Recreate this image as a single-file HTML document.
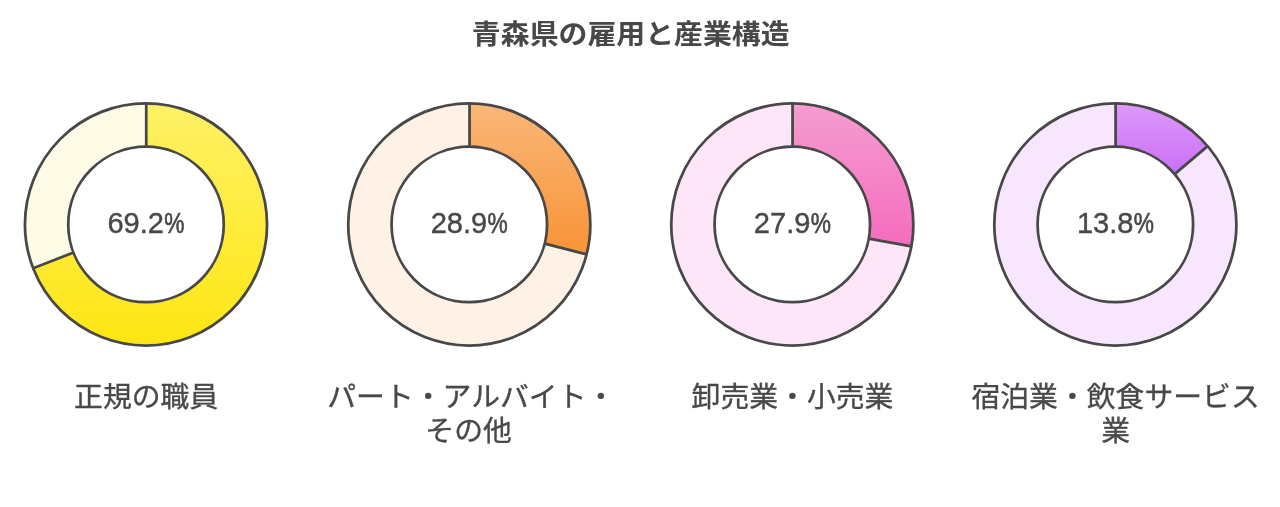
<!DOCTYPE html>
<html lang="ja"><head><meta charset="utf-8"><title>青森県の雇用と産業構造</title>
<style>
html,body{margin:0;padding:0;background:#fff;}
body{width:1280px;height:507px;overflow:hidden;}
svg{display:block;}
text{font-family:"Liberation Sans","Noto Sans CJK JP",sans-serif;fill:#484848;text-anchor:middle;}
.ttl{font-size:28.7px;font-weight:700;}
.lbl{font-size:28.7px;font-weight:400;stroke:#484848;stroke-width:0.35px;}
.pct{font-size:30.4px;font-weight:400;text-anchor:start;stroke:#484848;stroke-width:0.4px;}
</style></head><body>
<svg width="1280" height="507" viewBox="0 0 1280 507">
<defs><linearGradient id="g0" x1="0" y1="0" x2="0" y2="1"><stop offset="0" stop-color="#FEF166"/><stop offset="1" stop-color="#FEE612"/></linearGradient><linearGradient id="g1" x1="0" y1="0" x2="0" y2="1"><stop offset="0" stop-color="#FAB778"/><stop offset="1" stop-color="#F89337"/></linearGradient><linearGradient id="g2" x1="0" y1="0" x2="0" y2="1"><stop offset="0" stop-color="#F59DD0"/><stop offset="1" stop-color="#F56CBE"/></linearGradient><linearGradient id="g3" x1="0" y1="0" x2="0" y2="1"><stop offset="0" stop-color="#DD9AF9"/><stop offset="1" stop-color="#CA6EF7"/></linearGradient></defs>
<g class="donut">
<path fill-rule="evenodd" fill="#FEFBE6" d="M24.950000000000003,224.45a121.05,121.05 0 1 0 242.1,0a121.05,121.05 0 1 0 -242.1,0ZM68.25,224.45a77.75,77.75 0 1 0 155.5,0a77.75,77.75 0 1 0 -155.5,0Z"/>
<path d="M146.00,103.40A121.05,121.05 0 1 1 33.13,268.19L73.50,252.54A77.75,77.75 0 1 0 146.00,146.70Z" fill="url(#g0)"/>
<g fill="none" stroke="#484848" stroke-width="2.75"><circle cx="146.0" cy="224.45" r="121.05"/><circle cx="146.0" cy="224.45" r="77.75"/><path d="M146.25,146.70L146.25,103.40M73.50,252.54L33.13,268.19"/></g>
<text transform="translate(0,233.2) scale(1,1.0)" class="pct"><tspan x="107.40" textLength="56.6" lengthAdjust="spacingAndGlyphs">69.2</tspan><tspan x="164.30" textLength="20.2" lengthAdjust="spacingAndGlyphs" style="stroke-width:0.7px">%</tspan></text>
</g>
<g class="donut">
<path fill-rule="evenodd" fill="#FEF1E6" d="M348.25,224.45a121.05,121.05 0 1 0 242.1,0a121.05,121.05 0 1 0 -242.1,0ZM391.55,224.45a77.75,77.75 0 1 0 155.5,0a77.75,77.75 0 1 0 -155.5,0Z"/>
<path d="M469.30,103.40A121.05,121.05 0 0 1 586.60,254.33L544.64,243.64A77.75,77.75 0 0 0 469.30,146.70Z" fill="url(#g1)"/>
<g fill="none" stroke="#484848" stroke-width="2.75"><circle cx="469.3" cy="224.45" r="121.05"/><circle cx="469.3" cy="224.45" r="77.75"/><path d="M469.55,146.70L469.55,103.40M544.64,243.64L586.60,254.33"/></g>
<text transform="translate(0,233.2) scale(1,1.0)" class="pct"><tspan x="430.70" textLength="56.6" lengthAdjust="spacingAndGlyphs">28.9</tspan><tspan x="487.60" textLength="20.2" lengthAdjust="spacingAndGlyphs" style="stroke-width:0.7px">%</tspan></text>
</g>
<g class="donut">
<path fill-rule="evenodd" fill="#FDE6F7" d="M671.25,224.45a121.05,121.05 0 1 0 242.1,0a121.05,121.05 0 1 0 -242.1,0ZM714.55,224.45a77.75,77.75 0 1 0 155.5,0a77.75,77.75 0 1 0 -155.5,0Z"/>
<path d="M792.30,103.40A121.05,121.05 0 0 1 911.35,246.38L868.76,238.54A77.75,77.75 0 0 0 792.30,146.70Z" fill="url(#g2)"/>
<g fill="none" stroke="#484848" stroke-width="2.75"><circle cx="792.3" cy="224.45" r="121.05"/><circle cx="792.3" cy="224.45" r="77.75"/><path d="M792.55,146.70L792.55,103.40M868.76,238.54L911.35,246.38"/></g>
<text transform="translate(0,233.2) scale(1,1.0)" class="pct"><tspan x="753.80" textLength="56.6" lengthAdjust="spacingAndGlyphs">27.9</tspan><tspan x="810.70" textLength="20.2" lengthAdjust="spacingAndGlyphs" style="stroke-width:0.7px">%</tspan></text>
</g>
<g class="donut">
<path fill-rule="evenodd" fill="#F7E6FD" d="M994.3,224.45a121.05,121.05 0 1 0 242.1,0a121.05,121.05 0 1 0 -242.1,0ZM1037.6,224.45a77.75,77.75 0 1 0 155.5,0a77.75,77.75 0 1 0 -155.5,0Z"/>
<path d="M1115.35,103.40A121.05,121.05 0 0 1 1207.64,146.12L1174.63,174.14A77.75,77.75 0 0 0 1115.35,146.70Z" fill="url(#g3)"/>
<g fill="none" stroke="#484848" stroke-width="2.75"><circle cx="1115.35" cy="224.45" r="121.05"/><circle cx="1115.35" cy="224.45" r="77.75"/><path d="M1115.60,146.70L1115.60,103.40M1174.63,174.14L1207.64,146.12"/></g>
<text transform="translate(0,233.2) scale(1,1.0)" class="pct"><tspan x="1076.95" textLength="56.6" lengthAdjust="spacingAndGlyphs">13.8</tspan><tspan x="1133.85" textLength="20.2" lengthAdjust="spacingAndGlyphs" style="stroke-width:0.7px">%</tspan></text>
</g>
<text transform="translate(146.20,406.75) scale(1.005,0.975)" class="lbl">正規の職員</text>
<text transform="translate(471.30,406.75) scale(1.005,0.975)" class="lbl">パート・アルバイト・</text>
<text transform="translate(468.60,441.25) scale(1.005,0.975)" class="lbl">その他</text>
<text transform="translate(792.50,406.75) scale(1.005,0.975)" class="lbl">卸売業・小売業</text>
<text transform="translate(1115.55,406.75) scale(1.005,0.975)" class="lbl">宿泊業・飲食サービス</text>
<text transform="translate(1115.55,441.25) scale(1.005,0.975)" class="lbl">業</text>
<text transform="translate(630.75,43.5) scale(1.007,0.953)" class="ttl">青森県の雇用と産業構造</text>
</svg>
</body></html>
